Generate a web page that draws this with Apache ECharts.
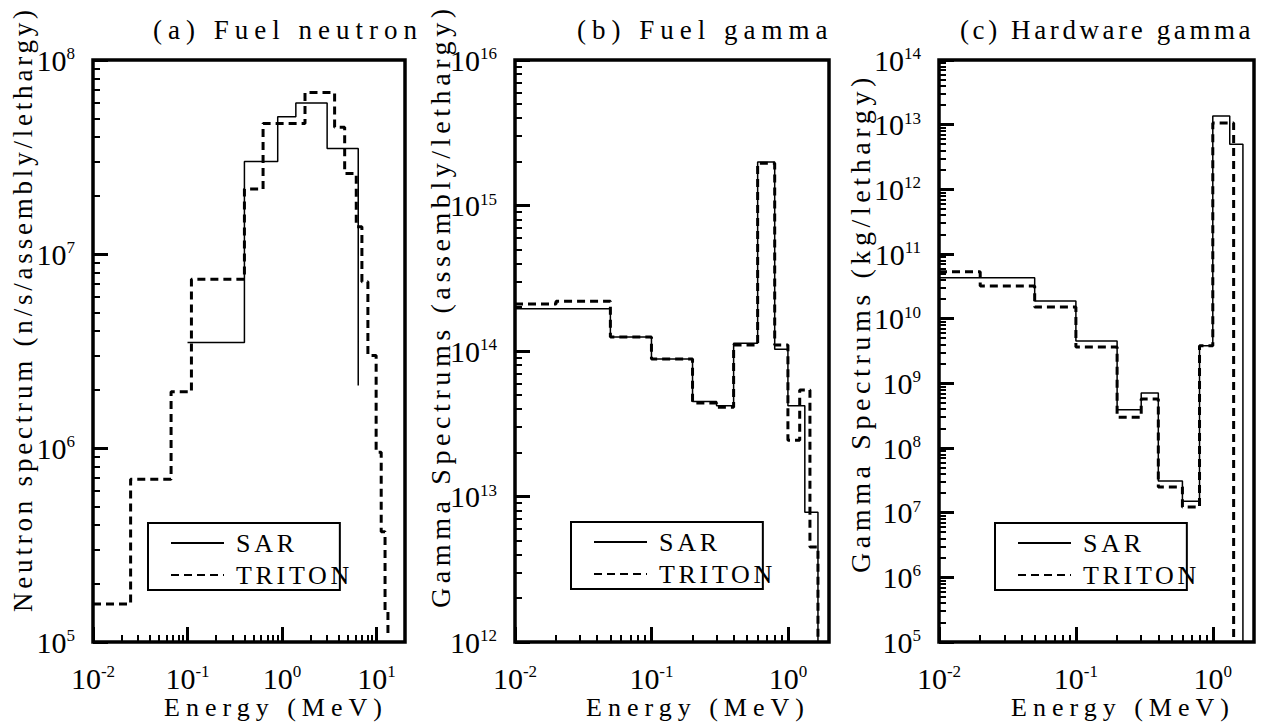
<!DOCTYPE html>
<html>
<head>
<meta charset="utf-8">
<script src="https://cdn.jsdelivr.net/npm/echarts@6.0.0/dist/echarts.min.js"></script>
<style>
html,body{margin:0;padding:0;background:#fff;}
#c{width:1266px;height:722px;}
#c svg text{font-family:'Liberation Serif',serif !important;}
text[style*="lsa"],text[font-family*="lsa"]{letter-spacing:3.8px;}
text[style*="lsb"],text[font-family*="lsb"]{letter-spacing:4.6px;}
text[style*="lsc"],text[font-family*="lsc"]{letter-spacing:4.6px;}
text[style*="ls6"],text[font-family*="ls6"]{letter-spacing:6px;}
text[style*="lst"],text[font-family*="lst"]{letter-spacing:3.6px;}
text[style*="ls4"],text[font-family*="ls4"]{letter-spacing:3.7px;}
</style>
</head>
<body>
<div id="c"></div>
<script>
// ---------- data: (a) Fuel neutron ----------
const aSarE = [0.1, 0.4, 0.9, 1.4, 3.0, 6.4];
const aSarV = [3.5e6, 3.0e7, 5.1e7, 6.0e7, 3.5e7, 2.1e6];
const aTriE = [0.01, 0.025, 0.067, 0.11, 0.4, 0.63, 1.75, 3.6, 4.6, 6.1, 7.0, 8.1, 9.9, 11.2, 12.3, 13.2];
const aTriV = [1.57e5, 6.9e5, 1.95e6, 7.4e6, 2.16e7, 4.7e7, 6.8e7, 4.5e7, 2.6e7, 1.38e7, 7.2e6, 3.0e6, 9.5e5, 3.7e5, 1.45e5, 1.1e5];
// ---------- data: (b) Fuel gamma ----------
const bSarE = [0.01, 0.05, 0.1, 0.2, 0.3, 0.4, 0.6, 0.8, 1.0, 1.33, 1.66];
const bSarV = [1.95e14, 1.25e14, 8.8e13, 4.5e13, 4.2e13, 1.13e14, 1.99e15, 1.03e14, 4.2e13, 7.8e12, 1e12];
const bTriE = [0.01, 0.02, 0.05, 0.1, 0.2, 0.3, 0.4, 0.6, 0.8, 1.0, 1.22, 1.45, 1.66];
const bTriV = [2.1e14, 2.2e14, 1.25e14, 8.8e13, 4.4e13, 4.1e13, 1.1e14, 1.95e15, 1.1e14, 2.44e13, 5.4e13, 4.5e12, 1e12];
// ---------- data: (c) Hardware gamma ----------
const cSarE = [0.01, 0.05, 0.1, 0.2, 0.3, 0.4, 0.6, 0.8, 1.0, 1.33, 1.66];
const cSarV = [4.3e10, 1.87e10, 4.5e9, 3.9e8, 7.1e8, 3.1e7, 1.5e7, 3.8e9, 1.36e13, 5.0e12, 1e5];
const cTriE = [0.01, 0.02, 0.05, 0.1, 0.2, 0.3, 0.4, 0.6, 0.8, 1.0, 1.42];
const cTriV = [5.3e10, 3.2e10, 1.52e10, 3.65e9, 3.0e8, 5.7e8, 2.5e7, 1.22e7, 3.8e9, 1.06e13, 1e5];
// ---------- tick labels ----------
const aXTicks = [0.01, 0.1, 1, 10];
const aYTicks = [1e5, 1e6, 1e7, 1e8];
const bXTicks = [0.01, 0.1, 1];
const bYTicks = [1e12, 1e13, 1e14, 1e15, 1e16];
const cXTicks = [0.01, 0.1, 1];
const cYTicks = [1e5, 1e6, 1e7, 1e8, 1e9, 1e10, 1e11, 1e12, 1e13, 1e14];
// ---------- texts ----------
const titles = ['(a) Fuel neutron', '(b) Fuel gamma', '(c) Hardware gamma'];
const yNames = ['Neutron spectrum (n/s/assembly/lethargy)', 'Gamma Spectrums (assembly/lethargy)', 'Gamma Spectrums (kg/lethargy)'];
const xName = 'Energy (MeV)';
const seriesNames = ['SAR', 'TRITON'];

const SERIF = 'Liberation Serif';

function minorTicks(min, max) {
  const out = [];
  for (let k = Math.floor(Math.log10(min)); k <= Math.ceil(Math.log10(max)); k++) {
    for (let m = 2; m <= 9; m++) {
      const v = +(m * Math.pow(10, k)).toPrecision(6);
      if (v > min * 1.0001 && v < max * 0.9999) out.push(v);
    }
  }
  return out;
}
function supFmt(v) {
  const e = Math.round(Math.log10(v));
  return '{b|10}{s|' + e + '}';
}
const rich = {
  b: {fontSize: 30, fontFamily: SERIF, color: '#000', lineHeight: 30},
  s: {fontSize: 17, fontFamily: SERIF, color: '#000', lineHeight: 6, verticalAlign: 'top'}
};
function pairs(E, V) { return E.map((e, i) => [e, V[i]]); }

const panels = [
  {grid: {left: 93, top: 60, width: 312, height: 582}, xr: [0.01, 20], yr: [1e5, 1e8],
   xt: aXTicks, yt: aYTicks, sar: pairs(aSarE, aSarV), tri: pairs(aTriE, aTriV),
   legend: {left: 148, top: 523}, title: {left: 153, ls: 'ls6'}, yName: {x: 23, y: 612, fs: 27, ls: 'lsa'}, xNameX: 276},
  {grid: {left: 515, top: 60, width: 314, height: 582}, xr: [0.01, 2], yr: [1e12, 1e16],
   xt: bXTicks, yt: bYTicks, sar: pairs(bSarE, bSarV), tri: pairs(bTriE, bTriV),
   legend: {left: 571, top: 522}, title: {left: 577, ls: 'ls6'}, yName: {x: 440, y: 608, fs: 28, ls: 'lsb'}, xNameX: 698},
  {grid: {left: 939, top: 60, width: 315, height: 582}, xr: [0.01, 2], yr: [1e5, 1e14],
   xt: cXTicks, yt: cYTicks, sar: pairs(cSarE, cSarV), tri: pairs(cTriE, cTriV),
   legend: {left: 995, top: 523}, title: {left: 960, ls: 'lst'}, yName: {x: 860, y: 573, fs: 28, ls: 'lsc'}, xNameX: 1123}
];

const grid = [], xAxis = [], yAxis = [], series = [], legend = [], title = [], graphic = [];
panels.forEach((p, i) => {
  grid.push(Object.assign({show: true, borderColor: '#000', borderWidth: 3.5, backgroundColor: 'transparent',
    containLabel: false, outerBoundsMode: 'none'}, p.grid));
  xAxis.push({type: 'log', logBase: 10, gridIndex: i, min: p.xr[0], max: p.xr[1], position: 'bottom',
    axisLine: {show: false}, splitLine: {show: false}, minorTick: {show: false},
    axisTick: {show: true, inside: true, length: 15, customValues: p.xt, lineStyle: {color: '#000', width: 3}},
    axisLabel: {show: true, customValues: p.xt, margin: 21, formatter: supFmt, rich: rich}});
  xAxis.push({type: 'log', logBase: 10, gridIndex: i, min: p.xr[0], max: p.xr[1], position: 'bottom',
    axisLine: {show: false}, splitLine: {show: false}, axisLabel: {show: false},
    axisTick: {show: true, inside: true, length: 7, customValues: minorTicks(p.xr[0], p.xr[1]), lineStyle: {color: '#000', width: 2}}});
  yAxis.push({type: 'log', logBase: 10, gridIndex: i, min: p.yr[0], max: p.yr[1], position: 'left',
    axisLine: {show: false}, splitLine: {show: false}, minorTick: {show: false},
    axisTick: {show: true, inside: true, length: 15, customValues: p.yt, lineStyle: {color: '#000', width: 3}},
    axisLabel: {show: true, customValues: p.yt, margin: 18, formatter: supFmt, rich: rich}});
  yAxis.push({type: 'log', logBase: 10, gridIndex: i, min: p.yr[0], max: p.yr[1], position: 'left', offset: 0,
    axisLine: {show: false}, splitLine: {show: false}, axisLabel: {show: false},
    axisTick: {show: true, inside: true, length: 7, customValues: minorTicks(p.yr[0], p.yr[1]), lineStyle: {color: '#000', width: 2}}});
  series.push({type: 'line', name: seriesNames[0], xAxisIndex: 2 * i, yAxisIndex: 2 * i, step: 'end',
    symbol: 'none', showSymbol: false, data: p.sar, color: '#000',
    lineStyle: {color: '#000', width: 1.5, type: 'solid'}, itemStyle: {color: '#000'}});
  series.push({type: 'line', name: seriesNames[1], xAxisIndex: 2 * i, yAxisIndex: 2 * i, step: 'end',
    symbol: 'none', showSymbol: false, data: p.tri, color: '#000',
    lineStyle: {color: '#000', width: 3, type: [8, 5]}, itemStyle: {color: '#000'}});
  legend.push({data: seriesNames, orient: 'vertical', left: p.legend.left, top: p.legend.top,
    padding: [7, 9, 2, 22], itemWidth: 53, itemHeight: 26, itemGap: 6, selectedMode: false,
    borderColor: '#000', borderWidth: 2, backgroundColor: '#fff',
    itemStyle: {opacity: 0, borderWidth: 0},
    textStyle: {fontSize: 26, fontFamily: SERIF + ', ls4', color: '#000', padding: [0, 0, 0, 7]}});
  title.push({text: titles[i], left: p.title.left, top: 16, padding: 0,
    textStyle: {fontSize: 27, fontWeight: 'normal', fontFamily: SERIF + ', ' + p.title.ls, color: '#000'}});
  graphic.push({type: 'text', x: p.yName.x, y: p.yName.y, rotation: Math.PI / 2, z: 100,
    style: {text: yNames[i], fontSize: p.yName.fs, fontFamily: SERIF + ', ' + p.yName.ls, fill: '#000',
      align: 'left', verticalAlign: 'middle', textAlign: 'left', textVerticalAlign: 'middle'}});
  graphic.push({type: 'text', x: p.xNameX, y: 707, z: 100,
    style: {text: xName, fontSize: 26, fontFamily: SERIF + ', ls6', fill: '#000',
      align: 'center', verticalAlign: 'middle', textAlign: 'center', textVerticalAlign: 'middle'}});
});

const chart = echarts.init(document.getElementById('c'), null, {renderer: 'svg', width: 1266, height: 722});
chart.setOption({
  animation: false,
  backgroundColor: '#fff',
  title: title,
  legend: legend,
  grid: grid,
  xAxis: xAxis,
  yAxis: yAxis,
  series: series,
  graphic: graphic
});
</script>
</body>
</html>
